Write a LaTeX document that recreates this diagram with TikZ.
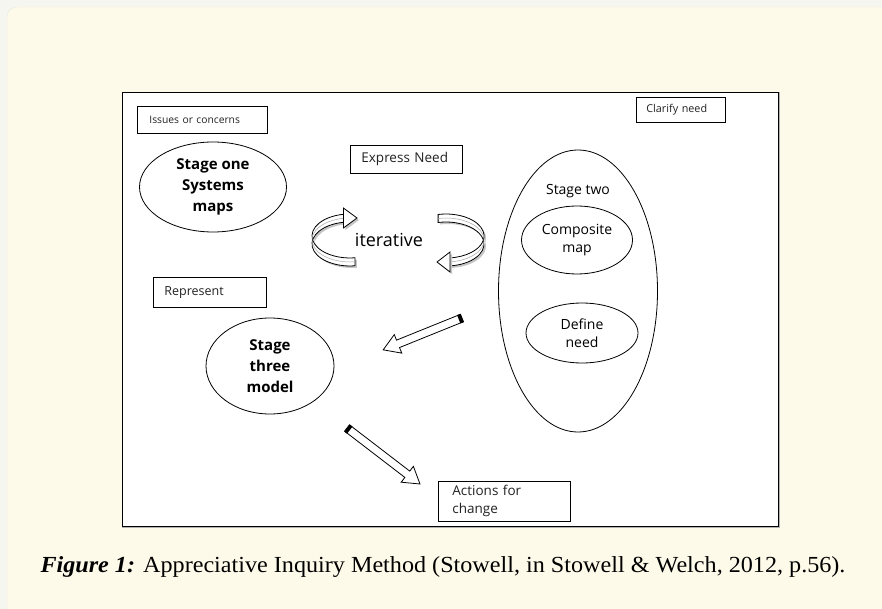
\documentclass[tikz,border=0pt]{standalone}
\usepackage{fontspec}
\setmainfont{Liberation Serif}
\newfontfamily\capfont[FakeStretch=1.05]{Liberation Serif}
\newfontfamily\diag{Open Sans}
\usetikzlibrary{shapes.geometric}
\definecolor{outerbg}{HTML}{F6F6F1}
\definecolor{cream}{HTML}{FEFAE9}
\definecolor{paneledge}{HTML}{ECE9DC}
\definecolor{txtgray}{HTML}{222222}
\tikzset{
  lbl/.style={draw=black, line width=0.8pt, fill=white, align=left, anchor=north west, inner sep=0pt, text=txtgray},
  ell/.style={draw=black, line width=0.8pt, ellipse, inner sep=0pt, align=center},
  boldtxt/.style={font=\diag\bfseries\fontsize{15}{21}\selectfont},
  regtxt/.style={font=\diag\fontsize{14}{18}\selectfont},
  blockarrow/.style={draw=black, line width=0.8pt, fill=white},
  ribbon/.style={draw=black, line width=0.8pt, fill=white},
}
\begin{document}
\begin{tikzpicture}[x=1pt,y=-1pt]
\useasboundingbox (0,0) rectangle (882,609);
\fill[outerbg] (0,0) rectangle (882,609);
\draw[paneledge, fill=cream, rounded corners=10pt] (890,7) -- (7,7) -- (7,620);
\fill[cream] (13,13) rectangle (882,609);
% frame
\draw[gray!60, line width=1.5pt] (123,93) rectangle (779,527);
\draw[black, line width=0.9pt, fill=white] (122,92) rectangle (778,526);

% labels
\node[lbl, font=\diag\fontsize{10.3}{12}\selectfont, minimum width=130pt, minimum height=27pt, text width=106pt, inner xsep=12pt] (issues) at (137,106) {Issues or concerns};
\node[lbl, font=\diag\fontsize{10.8}{12}\selectfont, minimum width=89pt, minimum height=25pt, text width=69pt, inner xsep=10pt] (clarify) at (636,97) {Clarify need};
\node[lbl, font=\diag\fontsize{13.5}{15}\selectfont, minimum width=112pt, minimum height=28pt, text width=90pt, inner xsep=11pt] (express) at (350,145) {Express Need};
\node[lbl, font=\diag\fontsize{12.5}{15}\selectfont, minimum width=113pt, minimum height=30pt, text width=91pt, inner xsep=11pt] (represent) at (153,277) {Represent};
\node[lbl, font=\diag\fontsize{13.5}{18}\selectfont, minimum width=132pt, minimum height=40pt, text width=104pt, inner xsep=14pt] (actions) at (438,481) {Actions for\\change};

% ellipses
\node[ell, minimum width=147pt, minimum height=90pt, boldtxt] (s1) at (213,187) {Stage one\\Systems\\maps};
\node[ell, minimum width=159pt, minimum height=282pt] (s2) at (578,291) {};
\node[regtxt] (s2t) at (578,191) {Stage two};
\node[ell, minimum width=111pt, minimum height=68pt, regtxt] (comp) at (577,240) {Composite\\map};
\node[ell, minimum width=112pt, minimum height=60pt, regtxt] (def) at (582,333) {Define\\need};
\node[ell, minimum width=128pt, minimum height=96pt, boldtxt] (s3) at (270,366) {Stage\\three\\model};

% iterative
\node[font=\diag\fontsize{18}{20}\selectfont] (iter) at (389,240) {iterative};

% left circular arrow (ring ribbon)
\begin{scope}
  \fill[gray!45] ([shift={(2,2)}]343.4,214.3) arc[start angle=100, end angle=277.5, x radius=38pt, y radius=22pt] -- ++(0,8) arc[start angle=277.5, end angle=100, x radius=38pt, y radius=22pt] -- cycle;
  \draw[ribbon] (343.4,214.3) arc[start angle=100, end angle=277.5, x radius=38pt, y radius=22pt] -- ++(0,8) arc[start angle=277.5, end angle=100, x radius=38pt, y radius=22pt] -- cycle;
  \draw[gray!70, line width=0.5pt] (343.4,218.3) arc[start angle=100, end angle=277.5, x radius=38pt, y radius=22pt];
  \fill[gray!45] (345.4,210) -- (359,220) -- (345.4,230) -- cycle;
  \draw[blockarrow] (343.4,208) -- (357,218) -- (343.4,228) -- cycle;
\end{scope}
% right circular arrow
\begin{scope}
  \fill[gray!45] ([shift={(2,2)}]438.1,214.5) arc[start angle=102, end angle=-84, x radius=38pt, y radius=22pt] -- ++(0,8) arc[start angle=-84, end angle=102, x radius=38pt, y radius=22pt] -- cycle;
  \draw[ribbon] (438.1,214.5) arc[start angle=102, end angle=-84, x radius=38pt, y radius=22pt] -- ++(0,8) arc[start angle=-84, end angle=102, x radius=38pt, y radius=22pt] -- cycle;
  \draw[gray!70, line width=0.5pt] (438.1,218.5) arc[start angle=102, end angle=-84, x radius=38pt, y radius=22pt];
  \fill[gray!45] (452,254) -- (439,264) -- (452,274) -- cycle;
  \draw[blockarrow] (450,252) -- (437,262) -- (450,272) -- cycle;
\end{scope}

% block arrows
\coordinate (a1) at (462,318);
\coordinate (a2) at (347,428);
\begin{scope}[shift={(a1)}, rotate=202]
  \draw[blockarrow] (0,-4) -- (69,-4) -- (69,-10) -- (85,0) -- (69,10) -- (69,4) -- (0,4) -- cycle;
  \fill[black] (0,-4.5) rectangle (3.5,4.5);
\end{scope}
\begin{scope}[shift={(a2)}, rotate=-37.5]
  \draw[blockarrow] (0,-4) -- (76,-4) -- (76,-10) -- (92,0) -- (76,10) -- (76,4) -- (0,4) -- cycle;
  \fill[black] (0,-4.5) rectangle (3.5,4.5);
\end{scope}

% caption
\node[font=\capfont\fontsize{23}{26}\selectfont, anchor=center] (cap) at (443,567) {\textbf{\textit{Figure 1:}} Appreciative Inquiry Method (Stowell, in Stowell \& Welch, 2012, p.56).};
\end{tikzpicture}
\end{document}
